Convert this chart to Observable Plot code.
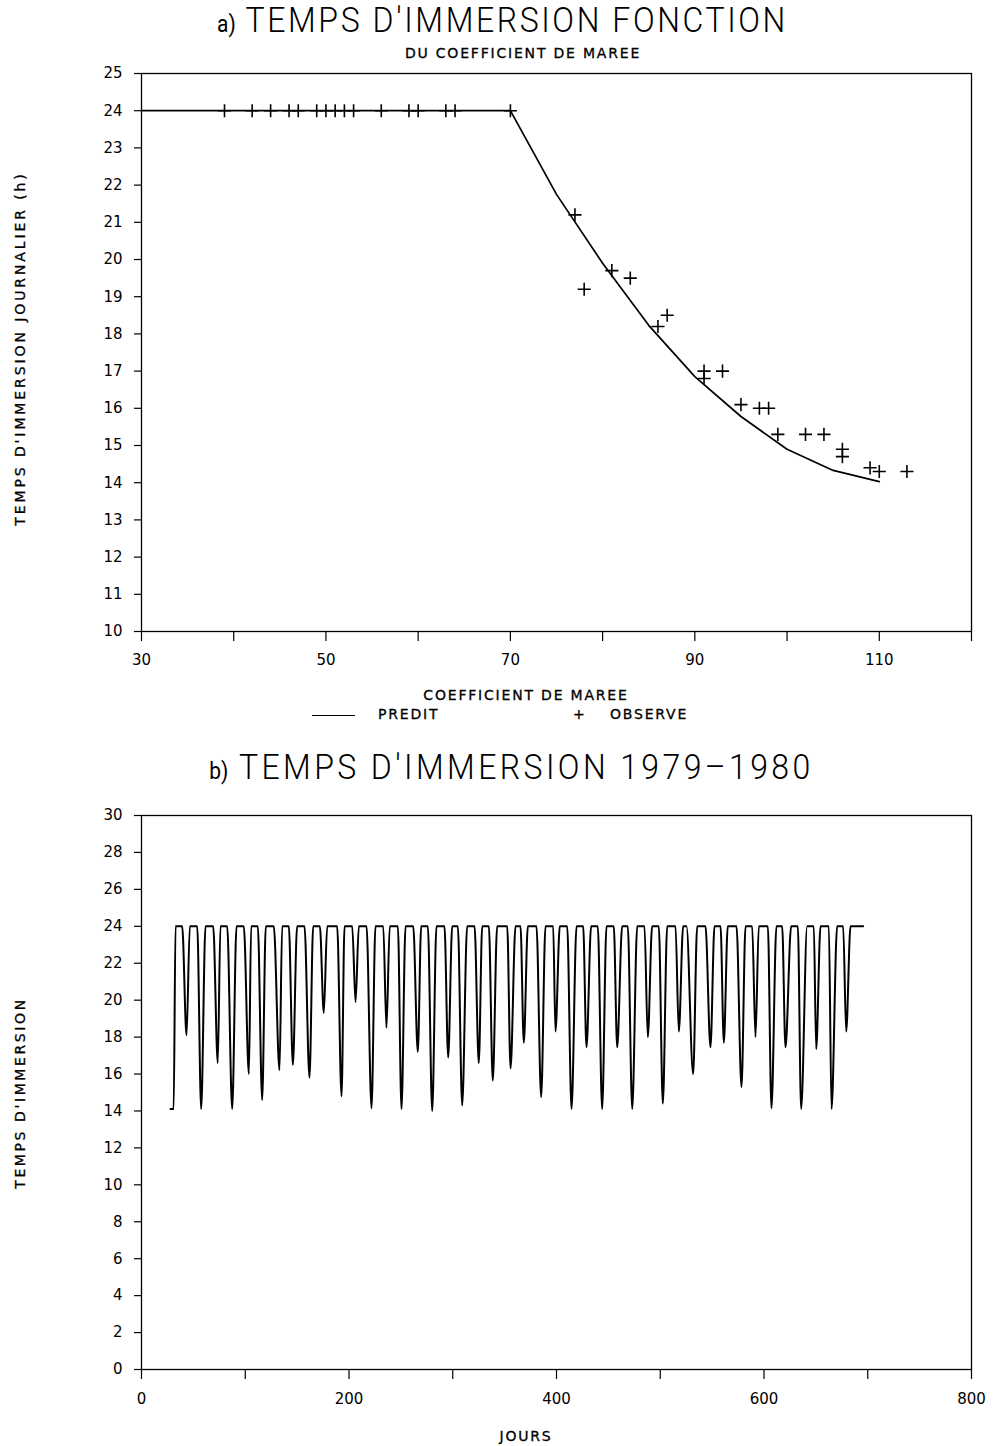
<!DOCTYPE html>
<html>
<head>
<meta charset="utf-8">
<script src="https://cdn.jsdelivr.net/npm/d3@7"></script>
<script src="https://cdn.jsdelivr.net/npm/@observablehq/plot@0.6"></script>
<style>
  html, body { margin: 0; padding: 0; background: #fff; }
  #page { position: relative; width: 993px; height: 1446px; background: #fff; overflow: hidden; font-family: "DejaVu Sans", sans-serif; color: #000; }
  .abs { position: absolute; white-space: nowrap; }
  .title { font-family: Roboto, sans-serif; font-weight: 300; font-size: 32px; letter-spacing: 2.6px; text-align: center; width: 993px; left: 0; transform: scaleY(1.12); }
  .title .tag { font-size: 21px; letter-spacing: 0; font-weight: 400; }
  .lab { font-size: 14px; font-weight: normal; letter-spacing: 1.8px; -webkit-text-stroke: 0.3px #000; }
  .rot { transform-origin: 0 0; transform: rotate(-90deg); }
  svg { position: absolute; left: 0; }
</style>
</head>
<body>
<div id="page">
  <div class="abs title" style="top:1px; left:6px;"><span class="tag">a)</span> TEMPS D'IMMERSION FONCTION</div>
  <div class="abs lab" style="top:45px; left:0; width:1046px; text-align:center;">DU COEFFICIENT DE MAREE</div>
  <div class="abs lab" style="top:687px; left:0; width:1052px; text-align:center;">COEFFICIENT DE MAREE</div>
  <div class="abs lab" style="top:706px; left:378px;">PREDIT</div>
  <div class="abs lab" style="top:706px; left:573px;">+</div>
  <div class="abs lab" style="top:706px; left:610px;">OBSERVE</div>
  <div class="abs" style="top:715px; left:312px; width:43px; height:0; border-top:1.5px solid #000;"></div>
  <div class="abs lab rot" style="left:12px; top:527px; width:357px; text-align:center; letter-spacing:2.9px;">TEMPS D'IMMERSION JOURNALIER (h)</div>
  <div class="abs title" style="top:748px; left:15px; letter-spacing:3.4px;"><span class="tag">b)</span> TEMPS D'IMMERSION 1979&#8211;1980</div>
  <div class="abs lab rot" style="left:12px; top:1190px; width:194px; text-align:center; letter-spacing:2.6px;">TEMPS D'IMMERSION</div>
  <div class="abs lab" style="top:1428px; left:0; width:1052px; text-align:center;">JOURS</div>
  <div id="chartA"></div>
  <div id="chartB"></div>
</div>
<script>
// ---------- Chart a: immersion time vs tidal coefficient ----------
const predCoef = [30, 70, 75, 80, 85, 90, 95, 100, 105, 110];
const predHours = [24, 24, 21.75, 19.9, 18.23, 16.85, 15.78, 14.9, 14.33, 14.03];

const obsCoef = [39, 42, 44, 46, 47, 49, 50, 51, 52, 53, 56, 59, 60, 63, 64, 70,
                 77, 78, 81, 83, 86, 87, 91, 91, 93, 95, 97, 98, 99, 102, 104, 106, 106, 109, 110, 113];
const obsHours = [24, 24, 24, 24, 24, 24, 24, 24, 24, 24, 24, 24, 24, 24, 24, 24,
                  21.2, 19.2, 19.7, 19.5, 18.2, 18.5, 17, 16.8, 17, 16.1, 16, 16, 15.3, 15.3, 15.3, 14.9, 14.7, 14.4, 14.3, 14.3];

const xTicksA = [30, 40, 50, 60, 70, 80, 90, 100, 110, 120];
const xLabelsA = [30, 50, 70, 90, 110];
const yTicksA = [10, 11, 12, 13, 14, 15, 16, 17, 18, 19, 20, 21, 22, 23, 24, 25];

// ---------- Chart b: immersion time 1979-1980 (days) ----------
const startDays = [28, 31];
const startHours = [14.1, 14.1];
const plateauStart = [32.8, 46.6, 61.7, 76.1, 91.6, 105.7, 119.8, 135.6, 150.0, 165.5, 179.0, 195.7, 209.5, 225.5, 239.3, 254.5, 269.6, 284.3, 299.5, 313.9, 328.4, 342.8, 360.5, 372.4, 389.4, 403.2, 419.3, 433.4, 448.2, 463.3, 477.8, 492.2, 506.7, 522.1, 535.6, 552.3, 565.1, 582.2, 595.0, 612.0, 626.2, 641.6, 654.5, 670.5, 683.4];
const plateauEnd = [39.2, 53.7, 69.1, 82.6, 98.6, 112.1, 127.5, 142.0, 157.1, 171.9, 188.6, 203.1, 216.9, 233.0, 247.1, 261.9, 276.0, 292.0, 304.9, 321.0, 334.8, 352.5, 365.3, 380.7, 396.8, 410.3, 425.7, 439.8, 455.2, 468.7, 484.8, 498.6, 514.7, 525.3, 543.6, 558.1, 573.5, 588.6, 603.7, 617.5, 632.6, 648.0, 662.5, 676.3, 695.6];
const plateauHours = 24;
const dipDay = [43.4, 57.5, 73.5, 87.4, 103.5, 116.3, 133.0, 145.9, 161.9, 175.7, 192.8, 206.3, 221.7, 236.1, 250.6, 266.3, 280.2, 295.6, 309.1, 325.1, 338.6, 355.7, 368.5, 385.2, 399.0, 414.5, 428.9, 444.0, 458.5, 473.0, 488.0, 502.5, 517.9, 531.7, 548.4, 561.3, 578.3, 591.8, 607.2, 620.7, 635.8, 650.3, 665.1, 679.2];
const dipMin = [18.1, 14.1, 16.6, 14.1, 16.0, 14.6, 16.2, 16.5, 15.8, 19.3, 14.8, 19.9, 14.15, 18.5, 14.1, 17.2, 14.0, 16.9, 14.3, 16.6, 15.65, 16.3, 17.7, 14.75, 18.3, 14.1, 17.45, 14.1, 17.45, 14.1, 18.0, 14.4, 18.3, 16.0, 17.45, 17.7, 15.3, 18.0, 14.15, 17.45, 14.1, 17.35, 14.1, 18.3];

const xTicksB = [0, 100, 200, 300, 400, 500, 600, 700, 800];
const xLabelsB = [0, 200, 400, 600, 800];
const yTicksB = [0, 2, 4, 6, 8, 10, 12, 14, 16, 18, 20, 22, 24, 26, 28, 30];

// build tables
const pred = predCoef.map((c, i) => ({c, h: predHours[i]}));
const obs = obsCoef.map((c, i) => ({c, h: obsHours[i]}));

const series = [];
startDays.forEach((d, i) => series.push({d, h: startHours[i]}));
plateauStart.forEach((s, i) => {
  series.push({d: s, h: plateauHours});
  series.push({d: plateauEnd[i], h: plateauHours});
  if (i < dipDay.length) series.push({d: dipDay[i], h: dipMin[i]});
});

const FS = 15;
const tickFont = {fontFamily: "'DejaVu Sans', sans-serif", fontSize: FS + "px"};

const chartA = Plot.plot({
  width: 993, height: 616,
  marginTop: 13, marginBottom: 45, marginLeft: 141, marginRight: 22,
  style: {...tickFont, color: "#000", background: "transparent"},
  x: {domain: [30, 120]},
  y: {domain: [10, 25]},
  marks: [
    Plot.frame({stroke: "#000", strokeWidth: 1.3}),
    Plot.axisY({ticks: yTicksA, tickSize: 7, tickPadding: 12, fontSize: FS, label: null, stroke: "#000", strokeWidth: 1.2}),
    Plot.axisX({ticks: xTicksA, tickFormat: d => xLabelsA.includes(d) ? d : "", tickSize: 10, tickPadding: 13, fontSize: FS, label: null, stroke: "#000", strokeWidth: 1.2}),
    Plot.line(pred, {x: "c", y: "h", stroke: "#000", strokeWidth: 1.7}),
    Plot.dot(obs, {x: "c", y: "h", symbol: "plus", r: 4.3, stroke: "#000", strokeWidth: 1.6})
  ]
});
chartA.style.top = "60px";
document.getElementById("chartA").appendChild(chartA);

const chartB = Plot.plot({
  width: 993, height: 614,
  marginTop: 15, marginBottom: 45, marginLeft: 141, marginRight: 22,
  style: {...tickFont, color: "#000", background: "transparent"},
  x: {domain: [0, 800]},
  y: {domain: [0, 30]},
  marks: [
    Plot.frame({stroke: "#000", strokeWidth: 1.3}),
    Plot.axisY({ticks: yTicksB, tickSize: 7, tickPadding: 12, fontSize: FS, label: null, stroke: "#000", strokeWidth: 1.2}),
    Plot.axisX({ticks: xTicksB, tickFormat: d => xLabelsB.includes(d) ? d : "", tickSize: 10, tickPadding: 14, fontSize: FS, label: null, stroke: "#000", strokeWidth: 1.2}),
    Plot.line(series, {x: "d", y: "h", curve: "monotone-x", stroke: "#000", strokeWidth: 2})
  ]
});
chartB.style.top = "800px";
document.getElementById("chartB").appendChild(chartB);

document.querySelectorAll("svg text").forEach(t => { t.style.webkitTextStroke = "0.3px #000"; });
</script>
</body>
</html>
